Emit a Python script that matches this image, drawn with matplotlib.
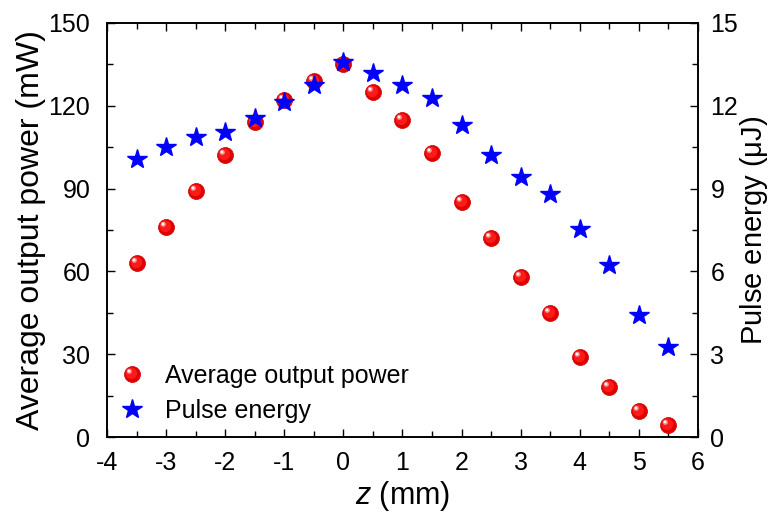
#!/usr/bin/env python3
# -*- coding: utf-8 -*-
"""
Average output power and pulse energy vs z position.
"""

import matplotlib
matplotlib.use('Agg')
import matplotlib.pyplot as plt
from matplotlib.markers import MarkerStyle
from matplotlib.transforms import Affine2D
from matplotlib.legend_handler import HandlerTuple

# Data
z = [-3.5, -3, -2.5, -2, -1.5, -1, -0.5, 0, 0.5, 1, 1.5, 2, 2.5, 3, 3.5, 4, 4.5, 5, 5.5]
power = [63, 76, 89, 102, 114, 122, 129, 135, 125, 115, 103, 85, 72, 58, 45, 29, 18, 9.3, 4.3]
energy = [10.07, 10.5, 10.86, 11.05, 11.55, 12.13, 12.74, 13.58, 13.18, 12.74, 12.27,
          11.32, 10.2, 9.43, 8.79, 7.52, 6.24, 4.42, 3.27]

x_ticks = [-4, -3, -2, -1, 0, 1, 2, 3, 4, 5, 6]
y1_ticks = [0, 30, 60, 90, 120, 150]
y2_ticks = [0, 3, 6, 9, 12, 15]

plt.rcParams['font.family'] = ['Liberation Sans', 'DejaVu Sans']
plt.rcParams['axes.unicode_minus'] = False
plt.rcParams['mathtext.fontset'] = 'custom'
plt.rcParams['mathtext.it'] = 'Liberation Sans:italic'
plt.rcParams['mathtext.rm'] = 'Liberation Sans'

fig = plt.figure(figsize=(7.74, 5.13), dpi=100)
ax1 = fig.add_axes([0.1382, 0.1481, 0.7636, 0.8071])
ax2 = ax1.twinx()

# Shaded "ball" markers built from layers
ms_ball = 11.5
mid = MarkerStyle('o', transform=Affine2D().scale(0.72).translate(-0.07, 0.07))
hl = MarkerStyle('o', transform=Affine2D().scale(0.32).translate(-0.2, 0.2))
hl2 = MarkerStyle('o', transform=Affine2D().scale(0.16).translate(-0.22, 0.22))
b1, = ax1.plot(z, power, ls='none', marker='o', ms=ms_ball, mfc='#e00000', mec='#c80000', mew=0.5, zorder=3)
b2, = ax1.plot(z, power, ls='none', marker=mid, ms=ms_ball, mfc='#ff1a1a', mec='none', zorder=4)
b3, = ax1.plot(z, power, ls='none', marker=hl, ms=ms_ball, mfc='#ff9090', mec='none', zorder=5)
b4, = ax1.plot(z, power, ls='none', marker=hl2, ms=ms_ball, mfc='#ffffff', mec='none', zorder=6)

s1, = ax2.plot(z, energy, ls='none', marker='*', ms=14.5, color='#0000ff', mec='#0000ff')

ax1.set_xlim(-4, 6)
ax1.set_ylim(0, 150)
ax2.set_ylim(0, 15)
ax1.set_xticks(x_ticks)
ax1.set_yticks(y1_ticks)
ax2.set_yticks(y2_ticks)
ax1.set_xticks([v + 0.5 for v in x_ticks[:-1]], minor=True)
ax1.set_yticks([v + 15 for v in y1_ticks[:-1]], minor=True)
ax2.set_yticks([v + 1.5 for v in y2_ticks[:-1]], minor=True)

ax1.tick_params(axis='both', which='both', direction='in', top=True, right=False,
                labelsize=18, width=1)
ax1.tick_params(axis='x', pad=10)
ax1.tick_params(axis='y', pad=12)
ax1.tick_params(which='major', length=6)
ax1.tick_params(which='minor', length=4)
ax2.tick_params(axis='y', which='both', direction='in', labelsize=18, width=1, pad=9)
ax2.tick_params(which='major', length=6)
ax2.tick_params(which='minor', length=4)

for ax in (ax1, ax2):
    for sp in ax.spines.values():
        sp.set_linewidth(1.2)

ax1.set_xlabel('$z$ (mm)', fontsize=22, labelpad=3)
ax1.set_ylabel('Average output power (mW)', fontsize=23, labelpad=2)
ax2.set_ylabel(r'Pulse energy $\mathregular{(\mu J)}$', fontsize=21, labelpad=0)

ax2.legend([(b1, b2, b3, b4), s1], ['Average output power', 'Pulse energy'],
           handler_map={tuple: HandlerTuple(ndivide=1, pad=0)},
           loc='lower left', frameon=False, fontsize=18,
           handlelength=1.0, handletextpad=0.8, labelspacing=0.45,
           borderaxespad=0.0, bbox_to_anchor=(0.005, 0.01))

fig.savefig('out.png', dpi=100)
